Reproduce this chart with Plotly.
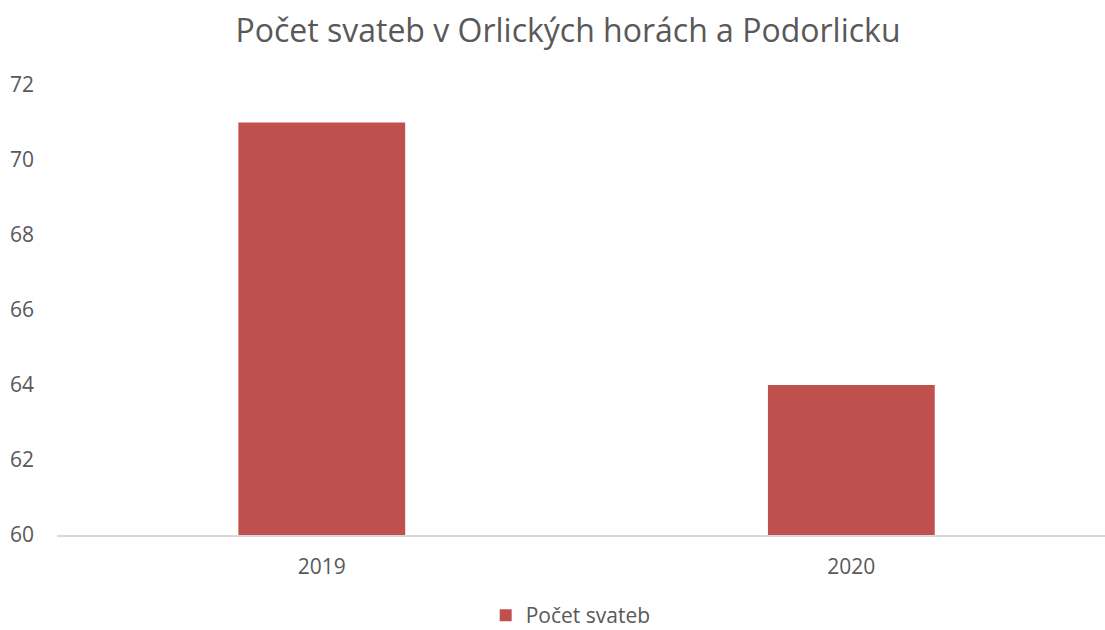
import plotly.graph_objects as go

years = ["2019", "2020"]
values = [71, 64]
series_name = "Počet svateb"
title_text = "Počet svateb v Orlických horách a Podorlicku"

W, H = 1105, 630
L, R, T, B = 57, 0, 85, 95

fig = go.Figure()
fig.add_trace(go.Bar(
    x=years, y=values, name=series_name,
    marker=dict(color="#C0504D", line=dict(width=0)),
    width=0.315,
    showlegend=True,
))

fig.update_layout(
    width=W, height=H,
    paper_bgcolor="white", plot_bgcolor="white",
    margin=dict(l=L, r=R, t=T, b=B, pad=0, autoexpand=False),
    title=dict(text=title_text, x=568/W, xanchor="center", y=1 - 31/H, yanchor="middle",
               font=dict(family="Open Sans", size=32, color="#595959")),
    font=dict(family="Open Sans", color="#595959", size=21),
    xaxis=dict(type="category", range=[-0.5, 1.479], showgrid=False, automargin=False,
               showline=True, linecolor="#D9D9D9", linewidth=2,
               ticks="", ticklabelstandoff=12, tickfont=dict(size=21, color="#595959")),
    yaxis=dict(range=[60, 72], dtick=2, showgrid=False, zeroline=False, showline=False, automargin=False,
               ticks="", ticklabelstandoff=22, tickfont=dict(size=21, color="#595959")),
    legend=dict(orientation="h", x=452/W, xanchor="left", y=-(B + 6)/(H - T - B), yanchor="bottom",
                font=dict(size=21, color="#595959")),
    showlegend=True,
)

fig.write_html("out.html", config={"displayModeBar": False},
               post_script="document.body.style.margin='0';document.body.style.overflow='hidden';")
